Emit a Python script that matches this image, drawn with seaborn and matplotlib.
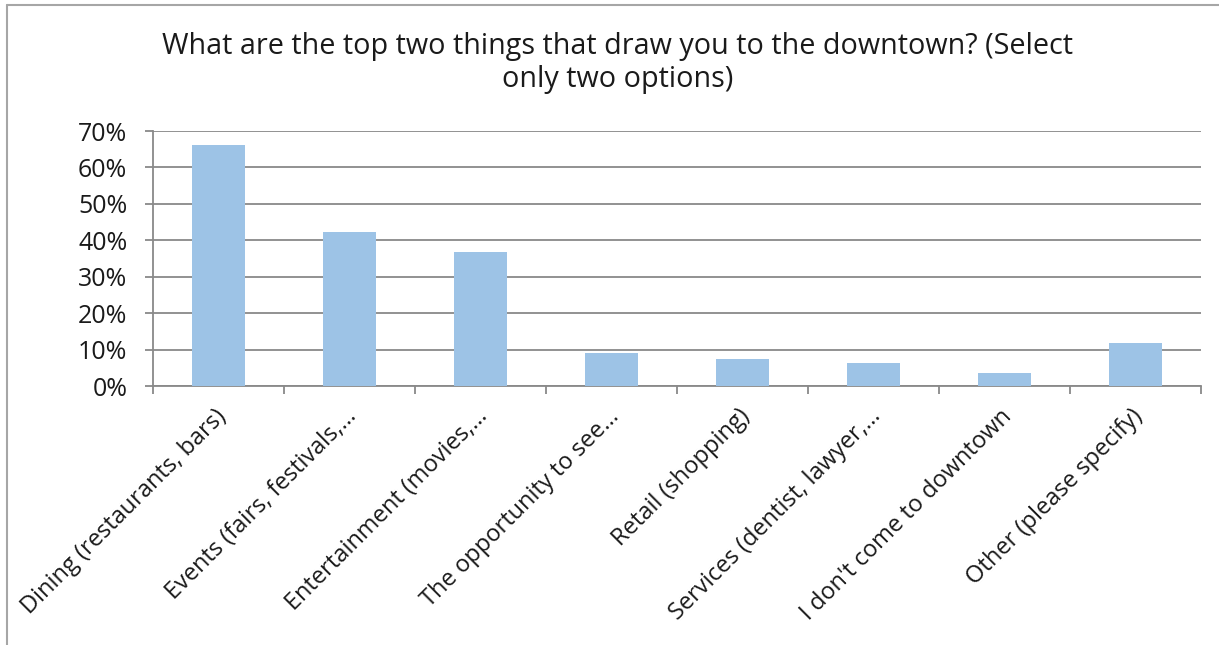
import matplotlib
matplotlib.use("Agg")
import matplotlib.pyplot as plt
from matplotlib.lines import Line2D
from matplotlib.ticker import PercentFormatter, FixedLocator
from matplotlib.transforms import ScaledTranslation
import seaborn as sns
import pandas as pd

categories = [
    "Dining (restaurants, bars)",
    "Events (fairs, festivals,\u2026",
    "Entertainment (movies,\u2026",
    "The opportunity to see\u2026",
    "Retail (shopping)",
    "Services (dentist, lawyer,\u2026",
    "I don't come to downtown",
    "Other (please specify)",
]
shares = [0.662, 0.423, 0.368, 0.091, 0.074, 0.063, 0.036, 0.118]
y_ticks = [0.0, 0.1, 0.2, 0.3, 0.4, 0.5, 0.6, 0.7]
title = "What are the top two things that draw you to the downtown? (Select\nonly two options)"

sns.set_theme(style="white")
plt.rcParams["font.family"] = ["Open Sans", "DejaVu Sans"]

BAR = "#9DC3E6"
GRID = "#898989"
TEXT = "#1a1a1a"

fig = plt.figure(figsize=(12.19, 6.45), dpi=100)
ax = fig.add_axes([153 / 1219, 1 - 386 / 645, (1201 - 153) / 1219, (386 - 131) / 645])

df = pd.DataFrame({"option": categories, "share": shares})
sns.barplot(data=df, x="option", y="share", color=BAR, width=0.4,
            saturation=1, linewidth=0, edgecolor="none", ax=ax, zorder=3)

ax.set_ylim(0, 0.7)
ax.set_xlim(-0.5, len(categories) - 0.5)
ax.yaxis.set_major_locator(FixedLocator(y_ticks))
ax.yaxis.set_major_formatter(PercentFormatter(1.0, decimals=0))
ax.grid(axis="y", color=GRID, linewidth=1.3, zorder=0)
ax.grid(axis="x", visible=False)
ax.set_xlabel("")
ax.set_ylabel("")

for side in ("top", "right"):
    ax.spines[side].set_visible(False)
for side in ("left", "bottom"):
    ax.spines[side].set_color(GRID)
    ax.spines[side].set_linewidth(1.3)

ax.tick_params(axis="y", direction="out", length=5.5, width=1.3, color=GRID,
               labelsize=18, labelcolor=TEXT, pad=13, left=True)
ax.set_xticks(range(len(categories)))
ax.set_xticks([i - 0.5 for i in range(len(categories) + 1)], minor=True)
ax.tick_params(axis="x", which="major", length=0, pad=10)
ax.tick_params(axis="x", which="minor", direction="out", length=6, width=1.3,
               color=GRID, bottom=True)
ax.set_xticklabels(categories, rotation=45, ha="right", va="center",
                   rotation_mode="anchor", fontsize=17, color=TEXT)
shift = ScaledTranslation(4 / 100, -13 / 100, fig.dpi_scale_trans)
for lab in ax.get_xticklabels():
    lab.set_transform(lab.get_transform() + shift)

fig.text(618 / 1219, 1 - 63 / 645, title, ha="center", va="center",
         fontsize=20.7, color=TEXT, linespacing=1.18)

# chart area frame (top and left edges)
fig.add_artist(Line2D([7 / 1219, 7 / 1219], [0, 1 - 5 / 645],
                      transform=fig.transFigure, color="#a6a6a6", linewidth=1.5))
fig.add_artist(Line2D([7 / 1219, 1], [1 - 5 / 645, 1 - 5 / 645],
                      transform=fig.transFigure, color="#a6a6a6", linewidth=1.5))

fig.savefig("out.png", dpi=100, facecolor="white")
